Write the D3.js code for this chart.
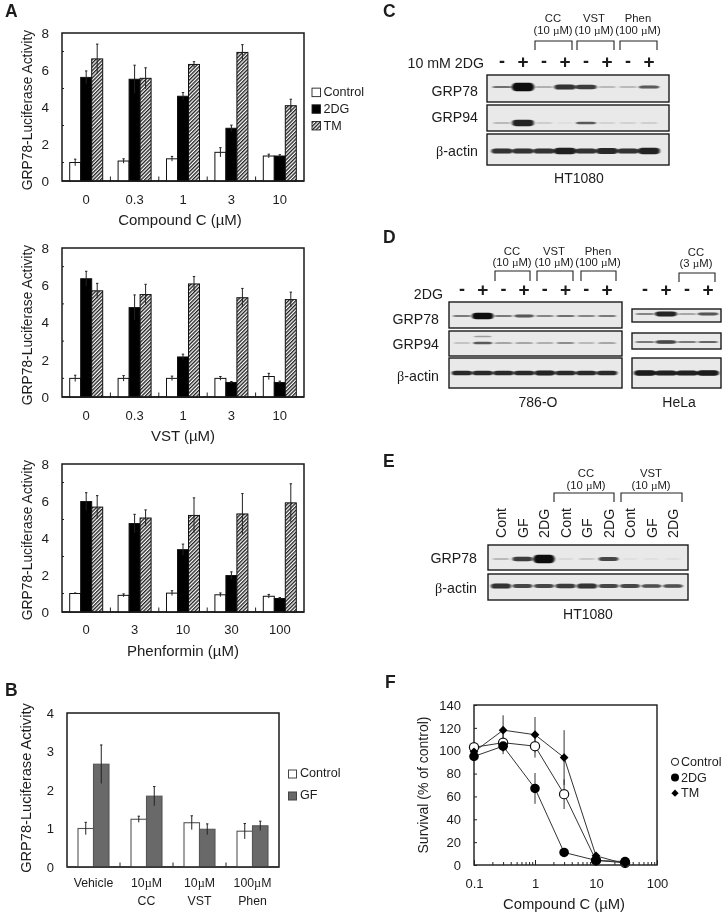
<!DOCTYPE html>
<html><head><meta charset="utf-8">
<script src="https://cdn.jsdelivr.net/npm/d3@7"></script>
<style>
html,body{margin:0;padding:0;background:#fff}
svg{display:block;filter:blur(0.4px)}
text{font-family:"Liberation Sans",Arial,sans-serif;fill:#1c1c1c}
</style></head><body>
<svg id="fig" width="726" height="916"></svg>
<script>
// ---- Panel A data ----
const seriesA = ["Control","2DG","TM"];
const doseCC = ["0","0.3","1","3","10"];
const ccControl = [1.0,1.08,1.2,1.55,1.35];
const ccControlErr = [0.18,0.12,0.13,0.25,0.1];
const cc2DG = [5.6,5.5,4.58,2.85,1.35];
const cc2DGErr = [0.35,0.76,0.2,0.17,0.07];
const ccTM = [6.6,5.55,6.3,6.95,4.07];
const ccTMErr = [0.8,0.57,0.15,0.42,0.35];

const doseVST = ["0","0.3","1","3","10"];
const vstControl = [1.0,1.0,1.0,1.0,1.1];
const vstControlErr = [0.17,0.15,0.12,0.1,0.17];
const vst2DG = [6.35,4.8,2.15,0.78,0.78];
const vst2DGErr = [0.4,0.68,0.15,0.05,0.07];
const vstTM = [5.7,5.5,6.07,5.33,5.23];
const vstTMErr = [0.4,0.55,0.4,0.5,0.4];

const dosePhen = ["0","3","10","30","100"];
const phenControl = [1.0,0.9,1.02,0.93,0.85];
const phenControlErr = [0.03,0.08,0.13,0.1,0.1];
const phen2DG = [5.97,4.78,3.37,1.97,0.73];
const phen2DGErr = [0.48,0.5,0.3,0.2,0.05];
const phenTM = [5.67,5.08,5.22,5.3,5.9];
const phenTMErr = [0.62,0.44,0.95,1.1,1.03];

// ---- Panel B data ----
const seriesB = ["Control","GF"];
const treatB1 = ["Vehicle","10µM","10µM","100µM"];
const treatB2 = ["","CC","VST","Phen"];
const bControl = [1.0,1.24,1.15,0.93];
const bControlErr = [0.16,0.08,0.18,0.2];
const bGF = [2.67,1.84,0.98,1.07];
const bGFErr = [0.5,0.25,0.14,0.12];

// ---- Panel F data ----
const doseF = [0.1,0.3,1,3,10,30];
const fControl = [103,107,104,62,4,2];
const fControlErr = [4,8,10,13,2,1];
const f2DG = [95,104,67,11,4,3];
const f2DGErr = [4,7,13.5,2,1,1];
const fTM = [99,118,114,94,8,1];
const fTMErr = [5,13,15.5,24,3,1];

// ---- Western blot band intensities ----
const signsFour = ["-","+","-","+","-","+","-","+"];
const cGRP78 = [0.45,1,0.25,0.8,0.75,0.2,0.2,0.6];
const cGRP94 = [0.2,0.88,0.1,0.03,0.55,0.08,0.08,0.1];
const cActin = [0.8,0.8,0.8,0.9,0.8,0.85,0.8,0.88];
const dGRP78 = [0.4,1,0.4,0.62,0.35,0.45,0.35,0.4];
const dGRP94 = [0.15,0.55,0.3,0.3,0.25,0.32,0.2,0.3];
const dGRP94Upper = [0,0.25,0,0,0,0,0,0];
const dActin = [0.85,0.85,0.85,0.85,0.88,0.85,0.85,0.85];
const signsHeLa = ["-","+","-","+"];
const hGRP78 = [0.35,0.87,0.3,0.62];
const hGRP94 = [0.4,0.7,0.4,0.5];
const hActin = [0.92,0.9,0.9,0.92];
const laneE = ["Cont","GF","2DG","Cont","GF","2DG","Cont","GF","2DG"];
const eGRP78 = [0.2,0.75,1,0.05,0.12,0.7,0.03,0.03,0.03];
const eActin = [0.8,0.7,0.7,0.75,0.8,0.7,0.7,0.65,0.65];

const svg = d3.select("#fig");
const defs = svg.append("defs");
const hatch = defs.append("pattern").attr("id","hatch").attr("width",2.6).attr("height",2.6)
  .attr("patternUnits","userSpaceOnUse").attr("patternTransform","rotate(45)");
hatch.append("rect").attr("width",2.6).attr("height",2.6).attr("fill","#fff");
hatch.append("rect").attr("width",1.35).attr("height",2.6).attr("fill","#222");
defs.append("filter").attr("id","bandBlur").attr("x","-20%").attr("y","-100%").attr("width","140%").attr("height","300%")
  .append("feGaussianBlur").attr("stdDeviation","1 0.75");

// text with µ / β set in a serif face, as in the figure
function rich(t, str){
  t.text(null);
  str.split(/([µβ])/).filter(s=>s!=="").forEach(s=>{
    const ts=t.append("tspan").text(s);
    if(s==="µ"||s==="β") ts.style("font-family","'Liberation Serif',serif");
  });
}
function label(x,y,str,size,anchor,opts){
  opts=opts||{};
  const t=svg.append("text").attr("x",x).attr("y",y).attr("font-size",size)
    .attr("text-anchor",anchor||"middle").attr("dominant-baseline","central");
  if(opts.bold) t.attr("font-weight","bold");
  if(opts.rotate) t.attr("transform",`rotate(-90 ${x} ${y})`);
  if(opts.rich) rich(t,str); else t.text(str);
  return t;
}
function panelLetter(x,y,s){
  svg.append("text").attr("x",x).attr("y",y).attr("font-size",17.5).attr("font-weight","bold").attr("fill","#111").text(s);
}
function styleAxis(g,size){
  g.selectAll("text").attr("font-size",size).attr("fill","#1c1c1c");
  g.selectAll("line").attr("stroke","#222").attr("stroke-width",1);
  g.select(".domain").remove();
}

function barChart(c){
  const x = d3.scaleBand().domain(c.cats).range([c.x0,c.x1]);
  const y = d3.scaleLinear().domain([0,c.ymax]).range([c.yb,c.yt]);
  const inner = d3.scaleBand().domain(c.series.map(s=>s.name)).range([-c.groupW/2,c.groupW/2]);
  const g = svg.append("g");
  g.append("rect").attr("x",c.x0).attr("y",c.yt).attr("width",c.x1-c.x0).attr("height",c.yb-c.yt)
    .attr("fill","#fff").attr("stroke","#1a1a1a").attr("stroke-width",1.5);
  // between-group ticks
  g.append("g").selectAll("line").data(c.cats.slice(1)).join("line")
    .attr("x1",d=>x(d)).attr("x2",d=>x(d)).attr("y1",c.yb).attr("y2",c.yb-4.5)
    .attr("stroke","#222");
  c.series.forEach(s=>{
    const sg=g.append("g");
    sg.selectAll("rect").data(c.cats).join("rect")
      .attr("x",(d)=>x(d)+x.bandwidth()/2+inner(s.name))
      .attr("width",inner.bandwidth())
      .attr("y",(d,i)=>y(s.values[i]))
      .attr("height",(d,i)=>c.yb-y(s.values[i]))
      .attr("fill",s.fill).attr("stroke",c.barStroke).attr("stroke-width",c.barStrokeW||1);
    const cx=d=>x(d)+x.bandwidth()/2+inner(s.name)+inner.bandwidth()/2;
    sg.selectAll("line.e").data(c.cats).join("line").attr("class","e")
      .attr("x1",cx).attr("x2",cx)
      .attr("y1",(d,i)=>y(s.values[i]+s.errs[i])).attr("y2",(d,i)=>y(s.values[i]-s.errs[i]))
      .attr("stroke","#222").attr("stroke-width",1);
    sg.selectAll("line.c").data(c.cats).join("line").attr("class","c")
      .attr("x1",d=>cx(d)-1.2).attr("x2",d=>cx(d)+1.2)
      .attr("y1",(d,i)=>y(s.values[i]+s.errs[i])).attr("y2",(d,i)=>y(s.values[i]+s.errs[i]))
      .attr("stroke","#222").attr("stroke-width",1);
  });
  // bottom line over bars
  g.append("line").attr("x1",c.x0).attr("x2",c.x1).attr("y1",c.yb).attr("y2",c.yb)
    .attr("stroke",c.baseStroke||"#1a1a1a").attr("stroke-width",1.5);
  const ya=g.append("g").attr("transform",`translate(${c.x0},0)`)
    .call(d3.axisLeft(y).tickValues(d3.range(0,c.ymax+1,c.major)).tickFormat(d3.format("d")).tickSize(0).tickPadding(13));
  styleAxis(ya,c.tickFont);
  if(c.minor){
    g.append("g").selectAll("line").data(d3.range(c.minor,c.ymax,c.major)).join("line")
      .attr("x1",c.x0).attr("x2",c.x0+2).attr("y1",d=>y(d)).attr("y2",d=>y(d)).attr("stroke","#222");
  }
  const xa=g.append("g").attr("transform",`translate(0,${c.yb})`)
    .call(d3.axisBottom(x).tickSize(0).tickPadding(c.catPad));
  styleAxis(xa,c.catFont);
  return {x,y,g,xa};
}

const fillsA = {Control:"#fff","2DG":"#000",TM:"url(#hatch)"};
function panelA(cats,vals,yt,yb,catPad,xlabel,xlx,xly,ylc){
  const series = seriesA.map((n,i)=>({name:n,values:vals[i*2],errs:vals[i*2+1],fill:fillsA[n]}));
  barChart({cats,series,x0:62,x1:304,yt,yb,ymax:8,major:2,minor:1,groupW:33,barStroke:"#111",
    tickFont:13.5,catFont:13,catPad});
  label(27,ylc,"GRP78-Luciferase Activity",13.8,"middle",{rotate:true});
  label(xlx,xly,xlabel,15,"middle");
}
panelA(doseCC,[ccControl,ccControlErr,cc2DG,cc2DGErr,ccTM,ccTMErr],33,181,14,"Compound C (µM)",180,219,110);
panelA(doseVST,[vstControl,vstControlErr,vst2DG,vst2DGErr,vstTM,vstTMErr],248,397,14,"VST (µM)",183,435,325);
panelA(dosePhen,[phenControl,phenControlErr,phen2DG,phen2DGErr,phenTM,phenTMErr],464,612,13,"Phenformin (µM)",183,650,540);
panelLetter(5,17,"A");

// legend A
const legendA = d3.scaleBand().domain(seriesA).range([84,134]);
svg.append("g").selectAll("rect").data(seriesA).join("rect")
  .attr("x",312).attr("width",8.5).attr("height",8.5)
  .attr("y",d=>legendA(d)+legendA.bandwidth()/2-4.2)
  .attr("fill",d=>fillsA[d]).attr("stroke","#222").attr("stroke-width",0.9);
seriesA.forEach(d=>label(323.5,legendA(d)+legendA.bandwidth()/2,d,12.6,"start"));

// Panel B
const b = barChart({cats:d3.range(4).map(String),
  series:[{name:"Control",values:bControl,errs:bControlErr,fill:"#fff"},
          {name:"GF",values:bGF,errs:bGFErr,fill:"#696969"}],
  x0:67,x1:279,yt:713,yb:867,ymax:4,major:1,groupW:31,barStroke:"#555",barStrokeW:1.1,baseStroke:"#333",
  tickFont:13,catFont:12.3,catPad:11});
b.xa.selectAll("text").each(function(d){ rich(d3.select(this),treatB1[+d]); });
treatB2.forEach((s,i)=>{ if(s) label(b.x(String(i))+b.x.bandwidth()/2,901,s,12.3,"middle"); });
label(26,788,"GRP78-Luciferase Activity",14.6,"middle",{rotate:true});
panelLetter(5,696,"B");
const legendB = d3.scaleBand().domain(seriesB).range([763,807]);
svg.append("g").selectAll("rect").data(seriesB).join("rect")
  .attr("x",288.5).attr("width",8).attr("height",8)
  .attr("y",d=>legendB(d)+legendB.bandwidth()/2-4)
  .attr("fill",d=>d==="GF"?"#696969":"#fff").attr("stroke","#444");
seriesB.forEach(d=>label(300,legendB(d)+legendB.bandwidth()/2-1,d,12.6,"start"));

// Panel F
(function(){
  const x=d3.scaleLog().domain([0.1,100]).range([474,657]);
  const y=d3.scaleLinear().domain([0,140]).range([865,705]);
  const g=svg.append("g");
  g.append("rect").attr("x",474).attr("y",705).attr("width",183).attr("height",160)
    .attr("fill","#fff").attr("stroke","#1a1a1a").attr("stroke-width",1.4);
  const minor=g.append("g").attr("transform","translate(0,865)")
    .call(d3.axisBottom(x).tickValues(x.ticks()).tickSize(-3).tickFormat(""));
  styleAxis(minor,12);
  const major=g.append("g").attr("transform","translate(0,865)")
    .call(d3.axisBottom(x).tickValues([0.1,1,10,100]).tickSize(-5).tickPadding(14).tickFormat(d3.format("~g")));
  styleAxis(major,13);
  const ya=g.append("g").attr("transform","translate(474,0)")
    .call(d3.axisLeft(y).tickValues(d3.range(0,141,20)).tickSize(-3).tickPadding(13));
  styleAxis(ya,13);
  const line=d3.line().x((d,i)=>x(doseF[i])).y(d=>y(d));
  const sets=[{v:fControl,e:fControlErr,k:"open"},{v:f2DG,e:f2DGErr,k:"fill"},{v:fTM,e:fTMErr,k:"dia"}];
  sets.forEach(s=>g.append("path").attr("d",line(s.v)).attr("fill","none").attr("stroke","#333").attr("stroke-width",1));
  sets.forEach(s=>{
    g.append("g").selectAll("line").data(doseF).join("line")
      .attr("x1",d=>x(d)).attr("x2",d=>x(d))
      .attr("y1",(d,i)=>y(s.v[i]+s.e[i])).attr("y2",(d,i)=>y(Math.max(0,s.v[i]-s.e[i])))
      .attr("stroke","#333");
  });
  function marks(s){
    const m=g.append("g").selectAll("g").data(doseF).join("g")
      .attr("transform",(d,i)=>`translate(${x(d)},${y(s.v[i])})`);
    if(s.k==="open") m.append("circle").attr("r",4.6).attr("fill","#fff").attr("stroke","#111").attr("stroke-width",1.2);
    if(s.k==="fill") m.append("circle").attr("r",4.8).attr("fill","#000");
    if(s.k==="dia") m.append("path").attr("d",d3.symbol().type(d3.symbolSquare).size(38)()).attr("transform","rotate(45)").attr("fill","#000");
  }
  marks(sets[0]);marks(sets[2]);marks(sets[1]);
  label(564,904,"Compound C (µM)",14.8,"middle");
  label(423,785,"Survival (% of control)",14,"middle",{rotate:true});
  // legend
  const lf=d3.scaleBand().domain(seriesA).range([754,801]);
  const ly=d=>lf(d)+lf.bandwidth()/2;
  svg.append("circle").attr("cx",675).attr("cy",ly("Control")).attr("r",3.6).attr("fill","#fff").attr("stroke","#111");
  svg.append("circle").attr("cx",675).attr("cy",ly("2DG")).attr("r",4).attr("fill","#000");
  svg.append("path").attr("d",d3.symbol().type(d3.symbolSquare).size(26)())
    .attr("transform",`translate(675,${ly("TM")}) rotate(45)`).attr("fill","#000");
  seriesA.forEach(d=>label(681,ly(d),d,12.6,"start"));
})();
panelLetter(385,688,"F");

// ---- Blots ----
function blot(c){
  const lane=d3.scalePoint().domain(d3.range(c.values[0].length)).range(c.laneRange);
  const thick=d3.scalePow().exponent(3).domain([0,1]).range([1.6,c.maxH||8.5]);
  const op=d3.scalePow().exponent(0.8).domain([0,1]).range([0,1]);
  const wide=d3.scaleLinear().domain([0,1]).range([c.bandW*0.85,c.bandW*1.12]);
  c.rows.forEach((r,ri)=>{
    svg.append("rect").attr("x",c.x0).attr("y",r.top).attr("width",c.x1-c.x0).attr("height",r.bottom-r.top)
      .attr("fill","#e9e9e9").attr("stroke","#1a1a1a").attr("stroke-width",1.4);
    r.bands.forEach(bd=>{
      svg.append("g").attr("filter","url(#bandBlur)").selectAll("rect").data(bd.values).join("rect")
        .attr("x",(d,i)=>lane(i)-wide(d)/2).attr("width",d=>wide(d))
        .attr("y",d=>bd.y-thick(d)/2).attr("height",d=>thick(d))
        .attr("rx",d=>wide(d)*0.2).attr("ry",d=>thick(d)/2).attr("fill","#0a0a0a").attr("opacity",d=>op(d));
    });
    if(r.name) label(c.nameX,r.nameY,r.name,14.2,"end",{rich:true});
  });
  return lane;
}
function signs(lane,list,y){
  list.forEach((s,i)=>{
    svg.append("text").attr("x",lane(i)).attr("y",y).attr("text-anchor","middle").attr("dominant-baseline","central")
      .attr("font-size",s==="+"?19:18).attr("font-weight","bold").attr("fill","#111").text(s);
  });
}
function bracket(x0,x1,top,bottom,l1,l2,lx,ly1,ly2){
  svg.append("path").attr("d",d3.line()([[x0,bottom],[x0,top],[x1,top],[x1,bottom]]))
    .attr("fill","none").attr("stroke","#222").attr("stroke-width",1.1);
  label(lx,ly1,l1,11.3,"middle");
  label(lx,ly2,l2,11.3,"middle",{rich:true});
}

// C
panelLetter(383,17,"C");
const laneC=blot({values:[cGRP78],laneRange:[502,649],x0:487,x1:669,bandW:20,nameX:478,rows:[
  {top:75,bottom:102,name:"GRP78",nameY:91,bands:[{y:87,values:cGRP78}]},
  {top:105,bottom:131,name:"GRP94",nameY:117,bands:[{y:123,values:cGRP94}]},
  {top:134,bottom:165,name:"β-actin",nameY:151,bands:[{y:151,values:cActin}]}]});
signs(laneC,signsFour,61);
label(484,63,"10 mM 2DG",14.2,"end");
label(579,178,"HT1080",14,"middle");
bracket(535,572,41,50,"CC","(10 µM)",553,18,30);
bracket(577,614,41,50,"VST","(10 µM)",594,18,30);
bracket(620,657,41,50,"Phen","(100 µM)",638,18,30);

// D
panelLetter(383,243,"D");
const laneD=blot({values:[dGRP78],laneRange:[462,607],x0:449,x1:622,bandW:19,nameX:439,maxH:6.5,rows:[
  {top:302,bottom:328,name:"GRP78",nameY:319,bands:[{y:316,values:dGRP78}]},
  {top:331,bottom:356,name:"GRP94",nameY:344,bands:[{y:343,values:dGRP94},{y:336.5,values:dGRP94Upper}]},
  {top:358,bottom:388,name:"β-actin",nameY:376,bands:[{y:373,values:dActin}]}]});
signs(laneD,signsFour,289);
label(443,294,"2DG",14.2,"end");
label(538,402,"786-O",14,"middle");
bracket(495,530,271,281,"CC","(10 µM)",512,251,262);
bracket(537,573,271,281,"VST","(10 µM)",554,251,262);
bracket(581,616,271,281,"Phen","(100 µM)",598,251,262);
const laneH=blot({values:[hGRP78],laneRange:[645,708],x0:632,x1:721,bandW:20,maxH:6.5,rows:[
  {top:309,bottom:322,bands:[{y:314,values:hGRP78}]},
  {top:333,bottom:349,bands:[{y:342,values:hGRP94}]},
  {top:358,bottom:388,bands:[{y:373,values:hActin}]}]});
signs(laneH,signsHeLa,289);
label(679,402,"HeLa",14,"middle");
bracket(679,715,273,282,"CC","(3 µM)",696,252,263);

// E
panelLetter(383,467,"E");
const laneEs=blot({values:[eGRP78],laneRange:[501,673],x0:488,x1:688,bandW:19,nameX:477,rows:[
  {top:545,bottom:570,name:"GRP78",nameY:558,bands:[{y:559,values:eGRP78}]},
  {top:574,bottom:600,name:"β-actin",nameY:588,bands:[{y:586,values:eActin}]}]});
laneE.forEach((s,i)=>{
  svg.append("text").attr("transform",`translate(${laneEs(i)},538) rotate(-90)`)
    .attr("font-size",14.2).attr("dominant-baseline","central").text(s);
});
label(588,614,"HT1080",14,"middle");
bracket(554,614,493,502,"CC","(10 µM)",586,473,485);
bracket(621,682,493,502,"VST","(10 µM)",651,473,485);
</script>
</body></html>
